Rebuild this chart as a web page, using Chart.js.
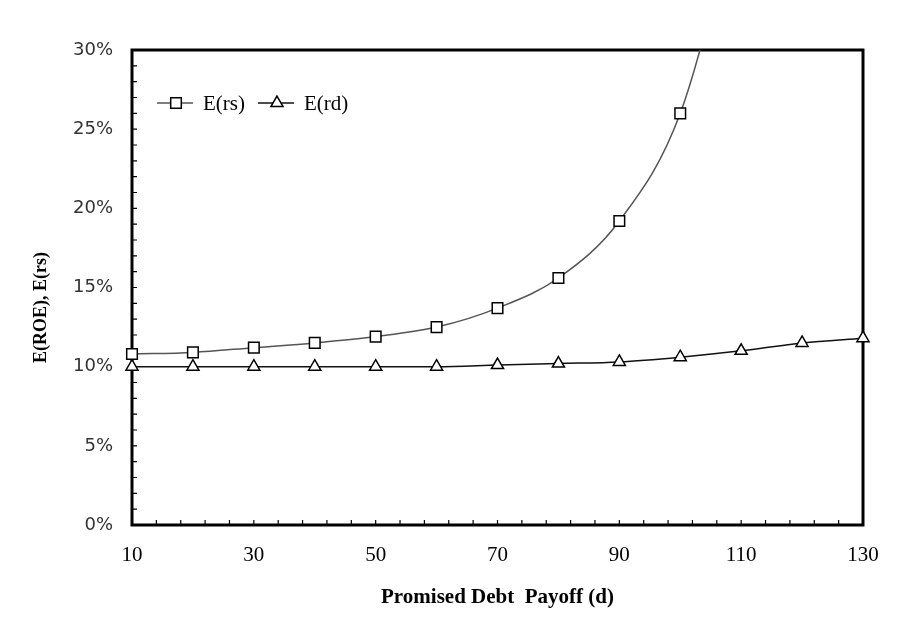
<!DOCTYPE html>
<html>
<head>
<meta charset="utf-8">
<script src="https://cdn.jsdelivr.net/npm/chart.js@4.4.0/dist/chart.umd.min.js"></script>
<style>
  html, body { margin: 0; padding: 0; background: #fff; }
  #wrap { width: 910px; height: 631px; position: relative; }
</style>
</head>
<body>
<div id="wrap"><canvas id="roechart"></canvas></div>
<script>
// Promised debt payoff (d)
const payoffs = [10, 20, 30, 40, 50, 60, 70, 80, 90, 100, 110, 120, 130];

// Expected returns in %
const equityReturn = [10.8, 10.9, 11.2, 11.5, 11.9, 12.5, 13.7, 15.6, 19.2, 26.0, 40.0];
const debtReturn = [10.0, 10.0, 10.0, 10.0, 10.0, 10.0, 10.1, 10.2, 10.3, 10.6, 11.0, 11.5, 11.8];

const seriesNames = ["E(rs)", "E(rd)"];
const xLabelTicks = [10, 30, 50, 70, 90, 110, 130];
const yLabelTicks = [0, 5, 10, 15, 20, 25, 30];
const yTitle = "E(ROE), E(rs)";

const serif = "'Liberation Serif', 'Times New Roman', serif";

// pairs x/y for the linear x scale
const toPoints = (vals) => vals.map((v, i) => ({ x: payoffs[i], y: v }));

// frame round the plot and small ticks pointing inward
const frameTicks = {
  id: "frameTicks",
  beforeDatasetsDraw(chart) {
    const { ctx, chartArea: a, scales } = chart;
    ctx.save();
    ctx.strokeStyle = "#000";
    ctx.lineWidth = 1.2;
    ctx.beginPath();
    scales.x.ticks.forEach((t) => {
      const px = scales.x.getPixelForValue(t.value);
      ctx.moveTo(px, a.bottom);
      ctx.lineTo(px, a.bottom - 5);
    });
    scales.y.ticks.forEach((t) => {
      const py = scales.y.getPixelForValue(t.value);
      ctx.moveTo(a.left, py);
      ctx.lineTo(a.left + 5, py);
    });
    ctx.stroke();
    ctx.lineWidth = 3;
    ctx.strokeRect(a.left, a.top, a.right - a.left, a.bottom - a.top);
    ctx.restore();
  },
};

// y title, sitting a bit below the middle of the plot like the original
const sideTitle = {
  id: "sideTitle",
  afterDraw(chart) {
    const { ctx, chartArea: a } = chart;
    ctx.save();
    ctx.translate(41, (a.top + a.bottom) / 2 + 20);
    ctx.rotate(-Math.PI / 2);
    ctx.font = "bold 18px " + serif;
    ctx.fillStyle = "#000";
    ctx.textAlign = "center";
    ctx.textBaseline = "middle";
    ctx.fillText(yTitle, 0, 0);
    ctx.restore();
  },
};

// legend inside the plot, line through the marker like the original
const innerLegend = {
  id: "innerLegend",
  afterDraw(chart) {
    const { ctx, chartArea: a } = chart;
    let x = a.left + 25;
    const y = a.top + 53;
    ctx.save();
    ctx.font = "21px " + serif;
    ctx.textBaseline = "middle";
    chart.data.datasets.forEach((ds) => {
      ctx.strokeStyle = ds.borderColor;
      ctx.lineWidth = 1.5;
      ctx.beginPath();
      ctx.moveTo(x, y);
      ctx.lineTo(x + 36, y);
      ctx.stroke();
      ctx.fillStyle = "#fff";
      ctx.strokeStyle = "#000";
      ctx.lineWidth = 1.5;
      Chart.helpers.drawPoint(ctx, {
        pointStyle: ds.pointStyle,
        rotation: 0,
        radius: ds.pointRadius,
        borderWidth: 1.5,
      }, x + 19, y);
      ctx.fillStyle = "#000";
      ctx.fillText(ds.label, x + 46, y + 1);
      x += 46 + ctx.measureText(ds.label).width + 13;
    });
    ctx.restore();
  },
};

const ctx = document.getElementById("roechart").getContext("2d");
const roeChart = new Chart(ctx, {
  type: "line",
  data: {
    datasets: [
      {
        label: seriesNames[0],
        data: toPoints(equityReturn),
        borderColor: "#555",
        borderWidth: 1.5,
        cubicInterpolationMode: "monotone",
        pointStyle: "rect",
        pointRadius: 7.5,
        pointBackgroundColor: "#fff",
        pointBorderColor: "#000",
        pointBorderWidth: 1.5,
        clip: { left: 10, top: 0, right: 10, bottom: 10 },
      },
      {
        label: seriesNames[1],
        data: toPoints(debtReturn),
        borderColor: "#111",
        borderWidth: 1.5,
        cubicInterpolationMode: "monotone",
        pointStyle: "triangle",
        pointRadius: 7,
        pointBackgroundColor: "#fff",
        pointBorderColor: "#000",
        pointBorderWidth: 1.5,
        clip: false,
      },
    ],
  },
  options: {
    responsive: true,
    maintainAspectRatio: false,
    animation: false,
    layout: { padding: { left: 0, right: 47, top: 50, bottom: 0 } },
    plugins: {
      legend: { display: false },
      tooltip: { enabled: false },
    },
    scales: {
      x: {
        type: "linear",
        min: 10,
        max: 130,
        grid: { display: false, drawTicks: false },
        border: { display: false },
        afterFit: (s) => { s.height = 106; },
        ticks: {
          stepSize: 4,
          autoSkip: false,
          maxRotation: 0,
          padding: 18,
          color: "#000",
          font: { family: serif, size: 21 },
          callback: (v) => (xLabelTicks.includes(v) ? String(v) : ""),
        },
        title: {
          display: true,
          text: "Promised Debt  Payoff (d)",
          color: "#000",
          font: { family: serif, size: 21, weight: "bold" },
          padding: { top: 0, bottom: 21 },
        },
      },
      y: {
        min: 0,
        max: 30,
        grid: { display: false, drawTicks: false },
        border: { display: false },
        afterFit: (s) => { s.width = 132; },
        ticks: {
          stepSize: 1,
          autoSkip: false,
          padding: 19,
          color: "#333",
          font: { family: "'DejaVu Sans', sans-serif", size: 18 },
          callback: (v) => (yLabelTicks.includes(v) ? v + "%" : ""),
        },
      },
    },
  },
  plugins: [frameTicks, sideTitle, innerLegend],
});
</script>
</body>
</html>
